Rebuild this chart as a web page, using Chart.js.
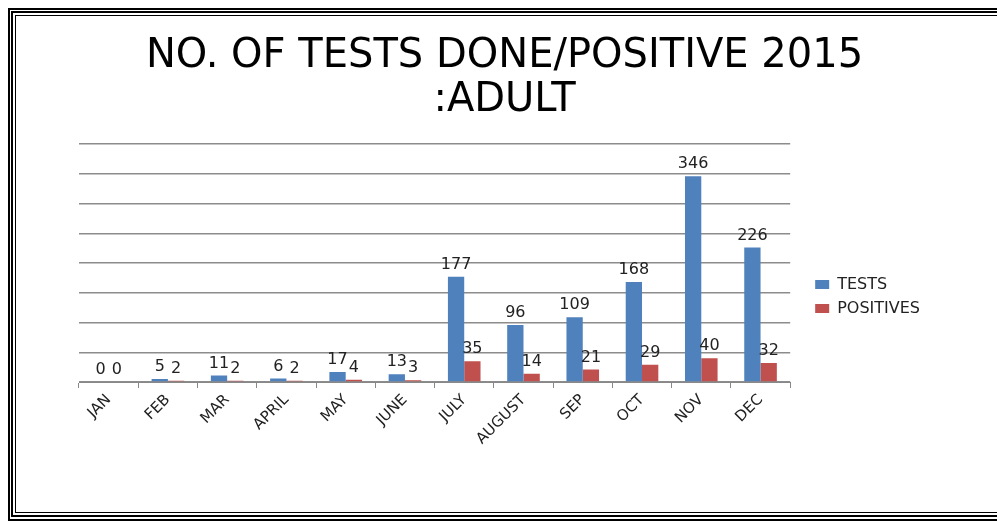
<!DOCTYPE html>
<html>
<head>
<meta charset="utf-8">
<script src="https://cdn.jsdelivr.net/npm/chart.js@4"></script>
<style>
  html, body { margin: 0; padding: 0; background: #fff; overflow: hidden; }
  #wrap { position: relative; width: 997px; height: 521px; overflow: hidden; }
  #my-chart { position: absolute; left: 0; top: 0; }
  .frame { position: absolute; border-style: solid; border-color: #000; width: 990px; pointer-events: none; }
</style>
</head>
<body>
<div id="wrap">
  <canvas id="my-chart" width="997" height="521"></canvas>
  <div class="frame" style="left:8px; top:8px; height:509px; border-width:2px; border-right: none;"></div>
  <div class="frame" style="left:11px; top:11px; height:502px; border-width:2.5px; border-right: none;"></div>
  <div class="frame" style="left:15px; top:15px; height:496px; border-width:1.5px; border-right: none;"></div>
</div>
<script>
let months = ["JAN", "FEB", "MAR", "APRIL", "MAY", "JUNE", "JULY", "AUGUST", "SEP", "OCT", "NOV", "DEC"]
let tests = [0, 5, 11, 6, 17, 13, 177, 96, 109, 168, 346, 226]
let positives = [0, 2, 2, 2, 4, 3, 35, 14, 21, 29, 40, 32]
let titleLines = ["NO. OF TESTS DONE/POSITIVE 2015", ":ADULT"]

// value labels above each bar
const barLabels = {
  id: 'barLabels',
  afterDatasetsDraw(chart) {
    const ctx = chart.ctx;
    ctx.save();
    ctx.font = '16px "DejaVu Sans"';
    ctx.fillStyle = '#222';
    ctx.textAlign = 'center';
    ctx.textBaseline = 'bottom';
    chart.data.datasets.forEach((ds, i) => {
      chart.getDatasetMeta(i).data.forEach((bar, j) => {
        ctx.fillText(ds.data[j], bar.x, bar.y - 4);
      });
    });
    ctx.restore();
  }
};

const ctx = document.getElementById('my-chart').getContext('2d');
new Chart(ctx, {
  type: 'bar',
  data: {
    labels: months,
    datasets: [
      { label: 'TESTS', data: tests, backgroundColor: '#4F81BD' },
      { label: 'POSITIVES', data: positives, backgroundColor: '#C0504D' }
    ]
  },
  options: {
    responsive: false,
    animation: false,
    layout: { padding: { left: 79, right: 67, top: 0, bottom: 70 } },
    datasets: { bar: { barPercentage: 1, categoryPercentage: 0.55 } },
    plugins: {
      title: {
        display: true,
        text: titleLines,
        color: '#000',
        font: { family: 'DejaVu Sans', size: 40, weight: 'normal', lineHeight: 1.1 },
        padding: { top: 35, bottom: 21 }
      },
      legend: {
        position: 'right',
        title: { display: true, text: ' ', font: { size: 4, lineHeight: 1 }, padding: { top: 69, bottom: 69 } },
        labels: {
          color: '#222',
          font: { family: 'DejaVu Sans', size: 16 },
          boxWidth: 14,
          boxHeight: 9,
          padding: 8
        }
      },
      tooltip: { enabled: false }
    },
    scales: {
      x: {
        grid: { display: true, drawOnChartArea: false, drawTicks: true, tickLength: 6, color: '#888' },
        border: { color: '#888', width: 1 },
        ticks: { color: '#222', font: { family: 'DejaVu Sans', size: 15 }, minRotation: 45, maxRotation: 45 }
      },
      y: {
        min: 0,
        max: 400,
        ticks: { display: false, stepSize: 50 },
        grid: { color: '#8c8c8c', lineWidth: 1.5, drawTicks: false },
        border: { display: false }
      },
      gap: {
        position: 'right',
        ticks: { display: false },
        grid: { display: false },
        border: { display: false },
        afterFit(scale) { scale.width = 17; }
      }
    }
  },
  plugins: [barLabels]
});
</script>
</body>
</html>
